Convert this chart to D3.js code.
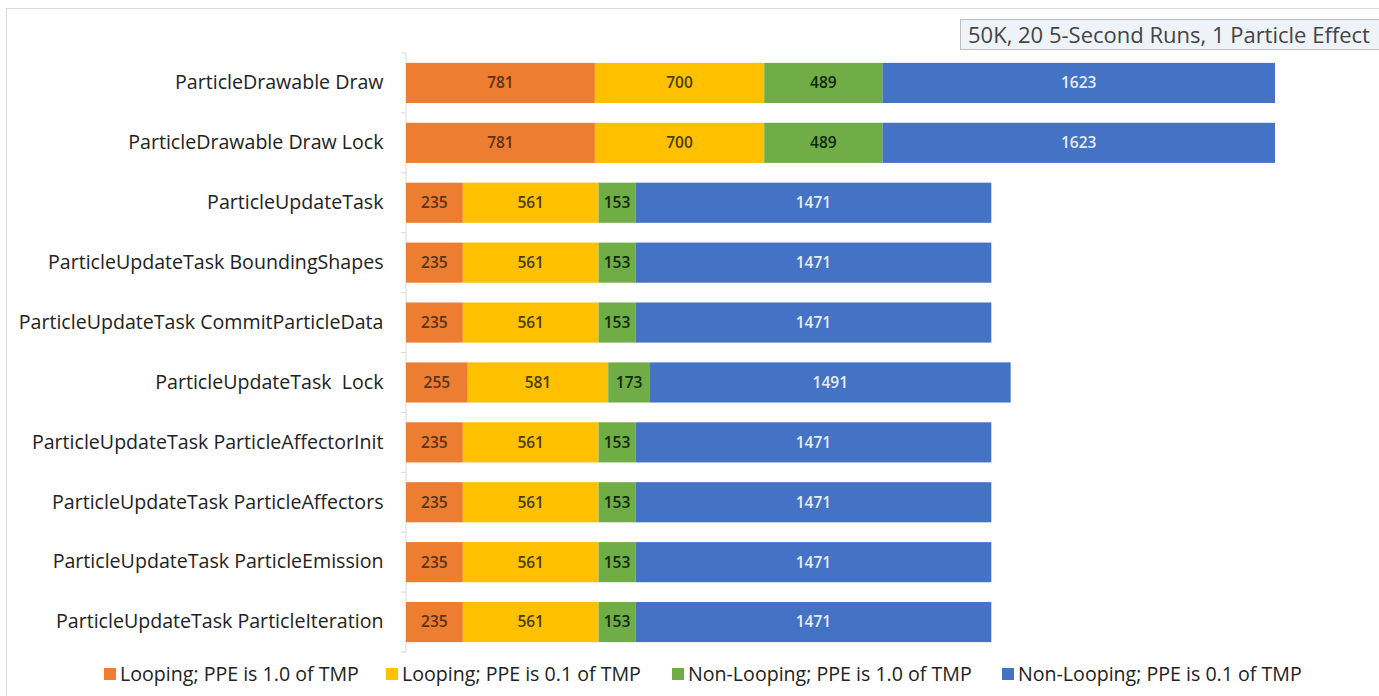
<!DOCTYPE html>
<html><head><meta charset="utf-8">
<script src="https://cdn.jsdelivr.net/npm/d3@7"></script>
<style>body{margin:0;background:#fff;} text{font-family:"Open Sans","Noto Sans",sans-serif;}</style>
</head><body>
<svg id="chart" width="1379" height="696"></svg>
<script>
const categories = [
  "ParticleDrawable Draw",
  "ParticleDrawable Draw Lock",
  "ParticleUpdateTask",
  "ParticleUpdateTask BoundingShapes",
  "ParticleUpdateTask CommitParticleData",
  "ParticleUpdateTask  Lock",
  "ParticleUpdateTask ParticleAffectorInit",
  "ParticleUpdateTask ParticleAffectors",
  "ParticleUpdateTask ParticleEmission",
  "ParticleUpdateTask ParticleIteration"
];
const seriesNames = [
  "Looping; PPE is 1.0 of TMP",
  "Looping; PPE is 0.1 of TMP",
  "Non-Looping; PPE is 1.0 of TMP",
  "Non-Looping; PPE is 0.1 of TMP"
];
const loopingFull    = [781, 781, 235, 235, 235, 255, 235, 235, 235, 235];
const loopingTenth   = [700, 700, 561, 561, 561, 581, 561, 561, 561, 561];
const nonLoopingFull = [489, 489, 153, 153, 153, 173, 153, 153, 153, 153];
const nonLoopingTenth= [1623, 1623, 1471, 1471, 1471, 1491, 1471, 1471, 1471, 1471];
const title = "50K, 20 5-Second Runs, 1 Particle Effect";

const colors = ["#ED7D31", "#FFC000", "#70AD47", "#4472C4"];
const labelColors = ["#5a3418", "#4a3d00", "#0f2a08", "#e6ecf7"];

const seriesData = [loopingFull, loopingTenth, nonLoopingFull, nonLoopingTenth];
const rows = categories.map((c, i) => {
  const o = {cat: c};
  seriesNames.forEach((s, j) => o[s] = seriesData[j][i]);
  return o;
});
const stacked = d3.stack().keys(seriesNames)(rows);

const svg = d3.select("#chart");
svg.append("rect").attr("x", 6.5).attr("y", 8.5).attr("width", 1380).attr("height", 700)
  .attr("fill", "#fff").attr("stroke", "#d9d9d9");

const x0 = 406;
const x = d3.scaleLinear().domain([0, 3593]).range([x0, 1275]);
const y = d3.scaleBand().domain(categories).range([53, 652]).paddingInner(0.33).paddingOuter(0.165);

const yAxis = d3.axisLeft(y).tickSize(0).tickPadding(22);
const gAx = svg.append("g").attr("transform", `translate(${x0 - 0.5},0)`).call(yAxis);
gAx.select(".domain").attr("stroke", "#d9d9d9");
gAx.selectAll("text").attr("font-size", 19.6).attr("fill", "#222").style("white-space", "pre");
const step = y.step();
d3.range(categories.length + 1).forEach(i => {
  const yy = 53 + i * step;
  svg.append("line").attr("x1", x0 - 5).attr("x2", x0).attr("y1", yy).attr("y2", yy).attr("stroke", "#d9d9d9");
});

const groups = svg.selectAll("g.series").data(stacked).join("g").attr("class", "series")
  .attr("fill", (d, i) => colors[i]);
groups.selectAll("rect").data(d => d).join("rect")
  .attr("x", d => x(d[0])).attr("width", d => x(d[1]) - x(d[0]))
  .attr("y", d => y(d.data.cat)).attr("height", y.bandwidth());

stacked.forEach((s, i) => {
  svg.append("g").selectAll("text").data(s).join("text")
    .attr("x", d => (x(d[0]) + x(d[1])) / 2)
    .attr("y", d => y(d.data.cat) + y.bandwidth() / 2)
    .attr("dy", "0.35em").attr("text-anchor", "middle")
    .attr("font-size", 15.5).attr("font-weight", 600)
    .attr("fill", labelColors[i])
    .text(d => d[1] - d[0]);
});

const tg = svg.append("g");
tg.append("rect").attr("x", 960.5).attr("y", 19.5).attr("width", 430).attr("height", 30)
  .attr("fill", "#eef3fa").attr("stroke", "#bfbfbf");
tg.append("text").attr("x", 968).attr("y", 35).attr("dy", "0.35em")
  .attr("font-size", 22).attr("fill", "#444").text(title);

const legendX = [104, 386, 672, 1002];
const lg = svg.append("g");
seriesNames.forEach((s, i) => {
  lg.append("rect").attr("x", legendX[i]).attr("y", 668).attr("width", 12).attr("height", 12).attr("fill", colors[i]);
  lg.append("text").attr("x", legendX[i] + 16).attr("y", 674).attr("dy", "0.35em")
    .attr("font-size", 19.6).attr("fill", "#222").text(s);
});
</script>
</body></html>
